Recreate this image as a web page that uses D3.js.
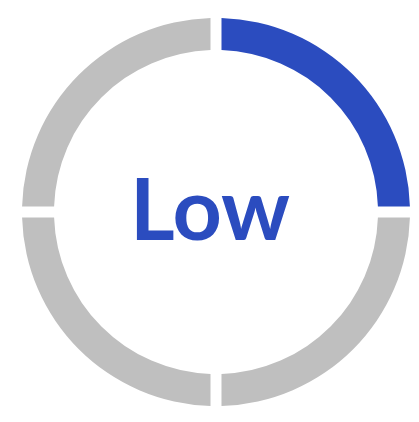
<!DOCTYPE html>
<html>
<head>
<meta charset="utf-8">
<script src="https://cdn.jsdelivr.net/npm/d3@7"></script>
<style>
  html, body { margin: 0; padding: 0; background: #fff; }
  svg { display: block; }
</style>
</head>
<body>
<svg id="chart"></svg>
<script>
// four equal quadrants, the first one is the active level
const levels = ['Low', 'Medium', 'High', 'Very high'];
const values = [1, 1, 1, 1];
const activeLevel = 'Low';

const width = 419;
const height = 422;
const center = { x: 216, y: 212 };
const outer = 194;
const inner = 162;
const gap = 11;

const svg = d3.select('#chart')
  .attr('width', width)
  .attr('height', height)
  .attr('viewBox', [0, 0, width, height]);

const g = svg.append('g')
  .attr('transform', `translate(${center.x},${center.y})`);

const pie = d3.pie()
  .sort(null)
  .value((d, i) => values[i])
  .padAngle(gap / outer);

const arc = d3.arc()
  .innerRadius(inner)
  .outerRadius(outer)
  .padRadius(outer);

g.selectAll('.seg')
  .data(pie(levels))
  .join('path')
  .attr('class', 'seg')
  .attr('d', arc)
  .attr('fill', (d) => (d.data === activeLevel ? '#2B4CBF' : '#BFBFBF'));

//label in the middle
g.append('text')
  .attr('x', -6)
  .attr('y', 28)
  .attr('text-anchor', 'middle')
  .attr('font-family', 'Lato, "Open Sans", sans-serif')
  .attr('font-weight', 'bold')
  .attr('font-size', 86)
  .attr('fill', '#2B4CBF')
  .text(activeLevel);
</script>
</body>
</html>
